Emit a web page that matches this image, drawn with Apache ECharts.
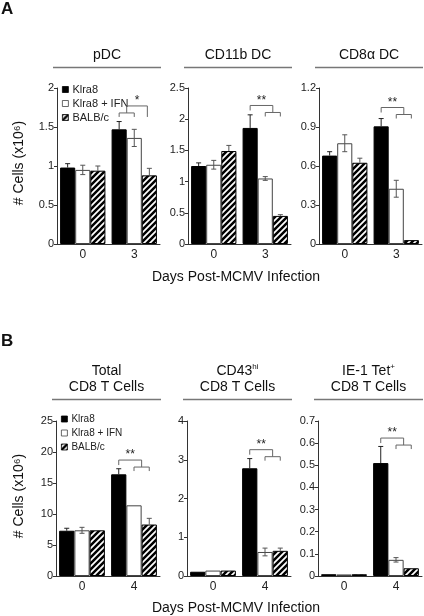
<!DOCTYPE html>
<html><head><meta charset="utf-8">
<script src="https://cdn.jsdelivr.net/npm/echarts@6/dist/echarts.min.js"></script>
<style>html,body{margin:0;padding:0;background:#fff}#c{width:424px;height:616px}</style>
</head><body><div id="c"></div>
<script>
// ---------- DATA ----------
const seriesNames = ['Klra8', 'Klra8 + IFN', 'BALB/c'];
const categoriesA = ['0', '3'];
const categoriesB = ['0', '4'];

const pdcKlra8 = [0.98, 1.47], pdcKlra8Err = [0.05, 0.10];
const pdcIFN = [0.95, 1.36], pdcIFNErr = [0.06, 0.11];
const pdcBALB = [0.94, 0.88], pdcBALBErr = [0.06, 0.09];

const cd11bKlra8 = [1.25, 1.86], cd11bKlra8Err = [0.05, 0.21];
const cd11bIFN = [1.27, 1.05], cd11bIFNErr = [0.07, 0.03];
const cd11bBALB = [1.49, 0.45], cd11bBALBErr = [0.09, 0.02];

const cd8aKlra8 = [0.68, 0.905], cd8aKlra8Err = [0.03, 0.06];
const cd8aIFN = [0.775, 0.425], cd8aIFNErr = [0.065, 0.065];
const cd8aBALB = [0.625, 0.03], cd8aBALBErr = [0.035, 0];

const totKlra8 = [7.3, 16.4], totKlra8Err = [0.4, 0.9];
const totIFN = [7.37, 11.4], totIFNErr = [0.48, 0];
const totBALB = [7.37, 8.3], totBALBErr = [0, 1.0];

const cd43Klra8 = [0.11, 2.78], cd43Klra8Err = [0, 0.25];
const cd43IFN = [0.14, 0.62], cd43IFNErr = [0, 0.1];
const cd43BALB = [0.14, 0.65], cd43BALBErr = [0, 0.07];

const ie1Klra8 = [0.008, 0.51], ie1Klra8Err = [0, 0.075];
const ie1IFN = [0.007, 0.073], ie1IFNErr = [0, 0.01];
const ie1BALB = [0.008, 0.035], ie1BALBErr = [0, 0];

// y axis ticks: [max, interval]
const yTicksPdc = [2, 0.5], yTicksCd11b = [2.5, 0.5], yTicksCd8a = [1.2, 0.3];
const yTicksTot = [25, 5], yTicksCd43 = [4, 1], yTicksIe1 = [0.7, 0.1];

// significance brackets: level (value units), type, label
const bracketPdc = {level: 1.77, type: 'left', label: '*'};
const bracketCd11b = {level: 2.22, type: 'right', label: '**'};
const bracketCd8a = {level: 1.05, type: 'right', label: '**'};
const bracketTot = {level: 18.7, type: 'right', label: '**'};
const bracketCd43 = {level: 3.26, type: 'right', label: '**'};
const bracketIe1 = {level: 0.623, type: 'right', label: '**'};

// ---------- LAYOUT ----------
const FONT = '"Liberation Sans", Arial, "DejaVu Sans", sans-serif';
const GAP = 0.12;
const panels = [
  {left: 57, top: 88, width: 103, height: 156, cats: categoriesA, y: yTicksPdc,
   vals: [pdcKlra8, pdcIFN, pdcBALB], errs: [pdcKlra8Err, pdcIFNErr, pdcBALBErr], br: bracketPdc},
  {left: 188, top: 88, width: 103, height: 156, cats: categoriesA, y: yTicksCd11b,
   vals: [cd11bKlra8, cd11bIFN, cd11bBALB], errs: [cd11bKlra8Err, cd11bIFNErr, cd11bBALBErr], br: bracketCd11b},
  {left: 319, top: 88, width: 103, height: 156, cats: categoriesA, y: yTicksCd8a,
   vals: [cd8aKlra8, cd8aIFN, cd8aBALB], errs: [cd8aKlra8Err, cd8aIFNErr, cd8aBALBErr], br: bracketCd8a},
  {left: 56, top: 421, width: 104, height: 155, cats: categoriesB, y: yTicksTot,
   vals: [totKlra8, totIFN, totBALB], errs: [totKlra8Err, totIFNErr, totBALBErr], br: bracketTot},
  {left: 187, top: 421, width: 104, height: 155, cats: categoriesB, y: yTicksCd43,
   vals: [cd43Klra8, cd43IFN, cd43BALB], errs: [cd43Klra8Err, cd43IFNErr, cd43BALBErr], br: bracketCd43},
  {left: 318, top: 421, width: 104, height: 155, cats: categoriesB, y: yTicksIe1,
   vals: [ie1Klra8, ie1IFN, ie1BALB], errs: [ie1Klra8Err, ie1IFNErr, ie1BALBErr], br: bracketIe1}
];

function makeHatch() {
  const c = document.createElement('canvas');
  c.width = 6; c.height = 6;
  const ctx = c.getContext('2d');
  ctx.fillStyle = '#fff'; ctx.fillRect(0, 0, 6, 6);
  ctx.strokeStyle = '#000'; ctx.lineWidth = 2.5;
  ctx.beginPath();
  ctx.moveTo(-1, 7); ctx.lineTo(7, -1);
  ctx.moveTo(-4, 4); ctx.lineTo(4, -4);
  ctx.moveTo(2, 10); ctx.lineTo(10, 2);
  ctx.stroke();
  return c;
}
const hatch = {image: makeHatch(), repeat: 'repeat'};
const barStyles = [
  {color: '#000', borderColor: '#000', borderWidth: 1},
  {color: '#fff', borderColor: '#444', borderWidth: 1},
  {color: hatch, borderColor: '#000', borderWidth: 1}
];

const grid = [], xAxis = [], yAxis = [], series = [];
panels.forEach((p, i) => {
  grid.push({left: p.left, top: p.top, width: p.width, height: p.height});
  xAxis.push({type: 'category', gridIndex: i, data: p.cats,
    axisLine: {lineStyle: {color: '#333', width: 1}}, axisTick: {show: false},
    axisLabel: {fontSize: 12, color: '#222', margin: 5, fontFamily: FONT}});
  yAxis.push({type: 'value', gridIndex: i, min: 0, max: p.y[0], interval: p.y[1],
    axisLine: {show: true, lineStyle: {color: '#333', width: 1}},
    axisTick: {show: true, length: 3, lineStyle: {color: '#333'}},
    splitLine: {show: false},
    axisLabel: {fontSize: 11, color: '#222', margin: 3, fontFamily: FONT,
      formatter: v => String(+v.toFixed(2))}});
  p.vals.forEach((arr, j) => {
    series.push({type: 'bar', name: seriesNames[j], xAxisIndex: i, yAxisIndex: i,
      data: arr, barGap: 0, barCategoryGap: (GAP * 100) + '%', itemStyle: barStyles[j],
      silent: true, animation: false});
  });
  // error bars
  const errData = [];
  p.vals.forEach((arr, j) => arr.forEach((v, k) => errData.push([k, v, p.errs[j][k], j])));
  series.push({type: 'custom', xAxisIndex: i, yAxisIndex: i, z: 5, animation: false, silent: true,
    data: errData,
    renderItem: (params, api) => {
      const k = api.value(0), v = api.value(1), e = api.value(2), j = api.value(3);
      if (!e) return null;
      const bw = api.size([1, 0])[0] * (1 - GAP) / 3;
      const c = api.coord([k, v]);
      const x = c[0] + (j - 1) * bw;
      const yt = api.coord([k, v + e])[1];
      const yb = j === 1 ? api.coord([k, v - e])[1] : c[1];
      const col = j === 0 ? '#222' : '#555';
      const children = [
        {type: 'line', shape: {x1: x, y1: yb, x2: x, y2: yt}, style: {stroke: col, lineWidth: 1}},
        {type: 'line', shape: {x1: x - 2.5, y1: yt, x2: x + 2.5, y2: yt}, style: {stroke: col, lineWidth: 1}}
      ];
      if (j === 1) children.push({type: 'line', shape: {x1: x - 2.5, y1: yb, x2: x + 2.5, y2: yb}, style: {stroke: col, lineWidth: 1}});
      return {type: 'group', children};
    }});
  // significance bracket
  series.push({type: 'custom', xAxisIndex: i, yAxisIndex: i, z: 6, animation: false, silent: true,
    data: [[1, p.br.level]],
    renderItem: (params, api) => {
      const c = api.coord([1, api.value(1)]);
      const bw = api.size([1, 0])[0] * (1 - GAP) / 3;
      const xs = [c[0] - bw, c[0], c[0] + bw];
      const y = c[1];
      const st = {stroke: '#666', lineWidth: 1, fill: null};
      const L = (x1, y1, x2, y2) => ({type: 'line', shape: {x1, y1, x2, y2}, style: st});
      let ch = [], a, b;
      if (p.br.type === 'left') {
        const ic = (xs[0] + xs[1]) / 2;
        a = ic; b = xs[2] - 2;
        ch = [L(a, y, b, y), L(a, y, a, y + 7), L(xs[0], y + 7, xs[1], y + 7),
              L(xs[0], y + 7, xs[0], y + 11), L(xs[1], y + 7, xs[1], y + 11), L(b, y, b, y + 11)];
      } else {
        const ic = (xs[1] + xs[2]) / 2;
        a = xs[0]; b = ic;
        ch = [L(a, y, b, y), L(a, y, a, y + 5), L(b, y, b, y + 7), L(xs[1], y + 7, xs[2], y + 7),
              L(xs[1], y + 7, xs[1], y + 11), L(xs[2], y + 7, xs[2], y + 11)];
      }
      ch.push({type: 'text', style: {text: p.br.label, x: (a + b) / 2, y: y + 1, align: 'center',
        verticalAlign: 'bottom', fontSize: 12, fontFamily: FONT, fill: '#222'}});
      return {type: 'group', children: ch};
    }});
});

const legendBase = {orient: 'vertical', data: seriesNames, itemWidth: 6, itemHeight: 6,
  itemGap: 3, icon: 'rect', selectedMode: false, itemStyle: {borderWidth: 0.8},
  textStyle: {fontSize: 11, color: '#222', fontFamily: FONT, padding: [0, 0, 0, -1]}};

const graphic = [
  {type: 'text', left: 1, top: 1, style: {text: 'A', font: 'bold 17px ' + FONT, fill: '#111'}},
  {type: 'text', left: 1, top: 333, style: {text: 'B', font: 'bold 17px ' + FONT, fill: '#111'}}
];
const richTitle = {
  n: {fontSize: 14, fontFamily: FONT, fill: '#111', lineHeight: 16},
  sup: {fontSize: 8, fontFamily: FONT, fill: '#111', lineHeight: 16, verticalAlign: 'top', padding: [0, 0, 6, 0]}
};
const titlesA = ['pDC', 'CD11b DC', 'CD8\u03b1 DC'];
const titlesB = ['{n|Total}\n{n|CD8 T Cells}', '{n|CD43}{sup|hi}\n{n|CD8 T Cells}', '{n|IE-1 Tet}{sup|+}\n{n|CD8 T Cells}'];
panels.forEach((p, i) => {
  const x1 = p.left - 4, x2 = p.left + p.width + 1;
  const A = i < 3;
  const ly = A ? 67.5 : 399.5;
  graphic.push({type: 'line', shape: {x1, y1: ly, x2, y2: ly}, style: {stroke: '#777', lineWidth: 1.5}});
  if (A) {
    graphic.push({type: 'text', x: (x1 + x2) / 2, y: 55, style: {text: titlesA[i], align: 'center', verticalAlign: 'middle',
      fontSize: 14, fontFamily: FONT, fill: '#111'}});
  } else {
    graphic.push({type: 'text', x: (x1 + x2) / 2, y: 379, style: {text: titlesB[i - 3], rich: richTitle, align: 'center', verticalAlign: 'middle'}});
  }
});
[163, 496].forEach(cy => graphic.push({type: 'text', x: 19, y: cy, rotation: Math.PI / 2,
  style: {text: '# Cells (x10\u2076)', align: 'center', verticalAlign: 'middle', fontSize: 14, fontFamily: FONT, fill: '#111'}}));
[277, 608].forEach(cy => graphic.push({type: 'text', x: 236, y: cy,
  style: {text: 'Days Post-MCMV Infection', align: 'center', verticalAlign: 'middle', fontSize: 14, fontFamily: FONT, fill: '#111'}}));

const chart = echarts.init(document.getElementById('c'), null, {renderer: 'canvas'});
chart.setOption({
  animation: false,
  backgroundColor: '#fff',
  grid, xAxis, yAxis, series, graphic,
  legend: [
    Object.assign({}, legendBase, {left: 57, top: 79}),
    Object.assign({}, legendBase, {left: 56, top: 409, itemGap: 4, textStyle: Object.assign({}, legendBase.textStyle, {fontSize: 10})})
  ]
});
</script></body></html>
